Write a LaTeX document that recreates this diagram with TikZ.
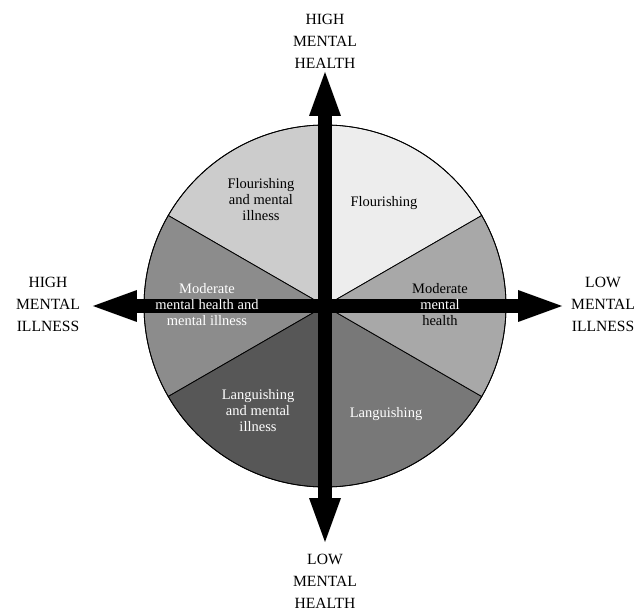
\documentclass[tikz,border=0pt]{standalone}
\usepackage{fontspec}
\setmainfont{Liberation Serif}
\usetikzlibrary{positioning}
\usetikzlibrary{arrows.meta}

\begin{document}
\begin{tikzpicture}[x=1pt,y=1pt,
  sector/.style={draw=black,line width=0.8pt},
  axistip/.tip={Triangle[length=44pt,width=32pt,line width=0pt]},
  axis/.style={line width=14pt,black,axistip-axistip},
  biglabel/.style={align=center,font=\fontsize{15.6}{22}\selectfont},
  piecelabel/.style={align=center,font=\fontsize{14.5}{16}\selectfont}]
 \useasboundingbox (-325,-309) rectangle (314,306);
 \draw[sector,fill=black!7](0,0)--(30:181) arc[start angle=30,end angle=90,radius=181]--cycle;
 \draw[sector,fill=black!20](0,0)--(90:181) arc[start angle=90,end angle=150,radius=181]--cycle;
 \draw[sector,fill=black!45](0,0)--(150:181) arc[start angle=150,end angle=210,radius=181]--cycle;
 \draw[sector,fill=black!66](0,0)--(210:181) arc[start angle=210,end angle=270,radius=181]--cycle;
 \draw[sector,fill=black!53](0,0)--(270:181) arc[start angle=270,end angle=330,radius=181]--cycle;
 \draw[sector,fill=black!34](0,0)--(-30:181) arc[start angle=-30,end angle=30,radius=181]--cycle;
 \draw[line width=0.8pt](0,0) circle (181);
 \coordinate (healthtip) at (0,234);
 \coordinate (languishtip) at (0,-236);
 \coordinate (illtip) at (-232,0);
 \coordinate (welltip) at (237,0);
 \draw[axis](languishtip)--(healthtip);
 \draw[axis](illtip)--(welltip);
 \node[biglabel] (highhealth) at (0,265) {HIGH\\MENTAL\\HEALTH};
 \node[biglabel] (lowhealth) at (0,-275) {LOW\\MENTAL\\HEALTH};
 \node[biglabel] (highillness) at (-277,2) {HIGH\\MENTAL\\ILLNESS};
 \node[biglabel] (lowillness) at (278,2) {LOW\\MENTAL\\ILLNESS};
 \node[piecelabel] (flourish) at (59,103) {Flourishing};
 \node[piecelabel] (flourishill) at (-64,106) {Flourishing\\and mental\\illness};
 \node[piecelabel,white] (moderateill) at (-118,1) {Moderate\\mental health and\\mental illness};
 \node[piecelabel] (moderate) at (115,1) {Moderate\\\textcolor{white}{mental}\\health};
 \node[piecelabel,white] (languish) at (61,-108) {Languishing};
 \node[piecelabel,white] (languishill) at (-67,-105) {Languishing\\and mental\\illness};
\end{tikzpicture}
\end{document}
